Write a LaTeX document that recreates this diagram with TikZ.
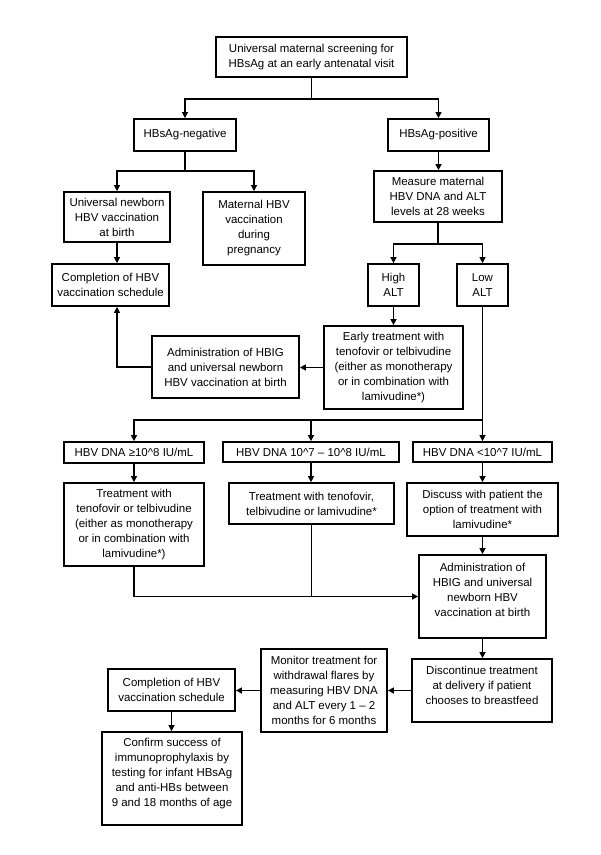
\documentclass[tikz,border=0pt]{standalone}
\usepackage{fontspec}
\setmainfont{Liberation Sans}
\usetikzlibrary{arrows.meta,calc}
\newcommand{\boxfont}{\fontsize{8.6}{11.25}\selectfont}
\begin{document}
\begin{tikzpicture}[x=0.75pt,y=-0.75pt,
  bx/.style 2 args={draw, line width=1.3pt, minimum width=#1*0.75pt, minimum height=#2*0.75pt, inner sep=0pt, align=center, font=\boxfont},
  txt/.style={align=center, inner sep=0pt, font=\boxfont},
  ln/.style={line width=1pt},
  ar/.style={line width=1pt,-{Triangle[length=4.5pt,width=4.5pt]}}]
\useasboundingbox[fill=white] (0,0) rectangle (600,855);

\node[bx={191}{40}] (top) at (311.5,57) {Universal maternal screening for\\HBsAg at an early antenatal visit};
\node[bx={102}{32}] (neg) at (185,135) {HBsAg-negative};
\node[bx={101}{32}] (pos) at (438.5,135) {HBsAg-positive};
\node[bx={106}{50}] (univ) at (117,217) {Universal newborn\\HBV vaccination\\at birth};
\node[bx={102}{73}] (mat) at (254,228.5) {Maternal HBV\\vaccination\\during\\pregnancy};
\node[bx={117}{42}] (comp) at (110.5,285) {Completion of HBV\\vaccination schedule};
\node[bx={128}{51}] (meas) at (438,196.5) {Measure maternal\\HBV DNA and ALT\\levels at 28 weeks};
\node[bx={51}{42}] (high) at (393.5,285) {High\\ALT};
\node[bx={51}{42}] (low) at (482.5,285) {Low\\ALT};
\node[bx={139}{83}] (early) at (393.5,367.5) {Early treatment with\\tenofovir or telbivudine\\(either as monotherapy\\or in combination with\\lamivudine*)};
\node[bx={147}{62}] (adm1) at (225.5,367) {Administration of HBIG\\and universal newborn\\HBV vaccination at birth};
\node[bx={140}{21}] (d1) at (134,452.5) {HBV DNA ≥10\textasciicircum8 IU/mL};
\node[bx={176}{20}] (d2) at (311,452) {HBV DNA 10\textasciicircum7 – 10\textasciicircum8 IU/mL};
\node[bx={139}{20}] (d3) at (482.5,452) {HBV DNA <10\textasciicircum7 IU/mL};
\node[bx={140}{83}] (t1) at (134,524.5) {Treatment with\\tenofovir or telbivudine\\(either as monotherapy\\or in combination with\\lamivudine*)};
\node[bx={165}{41}] (t2) at (311.5,503.5) {Treatment with tenofovir,\\telbivudine or lamivudine*};
\node[bx={151}{53}] (t3) at (482.5,509.5) {Discuss with patient the\\option of treatment with\\lamivudine*};
\node[bx={127}{83}] (adm2) at (482.5,596.5) {};
\node[txt] (adm2t) at (482.5,589.5) {Administration of\\HBIG and universal\\newborn HBV\\vaccination at birth};
\node[bx={140}{63}] (disc) at (482,690.5) {};
\node[txt] (disct) at (482,685.5) {Discontinue treatment\\at delivery if patient\\chooses to breastfeed};
\node[bx={126}{83}] (mon) at (324,690.5) {Monitor treatment for\\withdrawal flares by\\measuring HBV DNA\\and ALT every 1 – 2\\months for 6 months};
\node[bx={127}{42}] (comp2) at (171.5,690) {Completion of HBV\\vaccination schedule};
\node[bx={140}{93}] (conf) at (172,778.5) {};
\node[txt] (conft) at (172,773.5) {Confirm success of\\immunoprophylaxis by\\testing for infant HBsAg\\and anti-HBs between\\9 and 18 months of age};

% connectors
\coordinate (j1) at (311.5,99);
\draw[ln] (top.south) -- (j1);
\draw[ar] (j1) -| (neg.north);
\draw[ar] (j1) -| (pos.north);
\coordinate (j2) at (185,171);
\draw[ln] (neg.south) -- (j2);
\draw[ar] (j2) -| (univ.north);
\draw[ar] (j2) -| (mat.north);
\draw[ar] (univ.south) -- (univ.south |- comp.north);
\draw[ar] (pos.south) -- (pos.south |- meas.north);
\coordinate (j3) at (438,244);
\draw[ln] (meas.south) -- (j3);
\draw[ar] (j3) -| (high.north);
\draw[ar] (j3) -| (low.north);
\draw[ar] (high.south) -- (high.south |- early.north);
\draw[ar] (early.west) -- (early.west -| adm1.east);
\draw[ar] (adm1.west) -| (univ.south |- comp.south);
\coordinate (j4) at (482.5,420);
\draw[ln] (low.south) -- (j4);
\draw[ar] (j4) -- (d3.north);
\draw[ar] (j4) -| (d1.north);
\draw[ar] (d2.north |- j4) -- (d2.north);
\draw[ar] (d1.south) -- (t1.north);
\draw[ar] (d2.south) -- (d2.south |- t2.north);
\draw[ar] (d3.south) -- (t3.north);
\draw[ar] (t3.south) -- (adm2.north);
\draw[ar] (t1.south) |- (adm2.west);
\draw[ln] (t2.south) -- (t2.south |- adm2.west);
\draw[ar] (adm2.south) -- (adm2.south |- disc.north);
\draw[ar] (disc.west) -- (disc.west -| mon.east);
\draw[ar] (mon.west) -- (mon.west -| comp2.east);
\draw[ar] (comp2.south) -- (comp2.south |- conf.north);
\end{tikzpicture}
\end{document}
